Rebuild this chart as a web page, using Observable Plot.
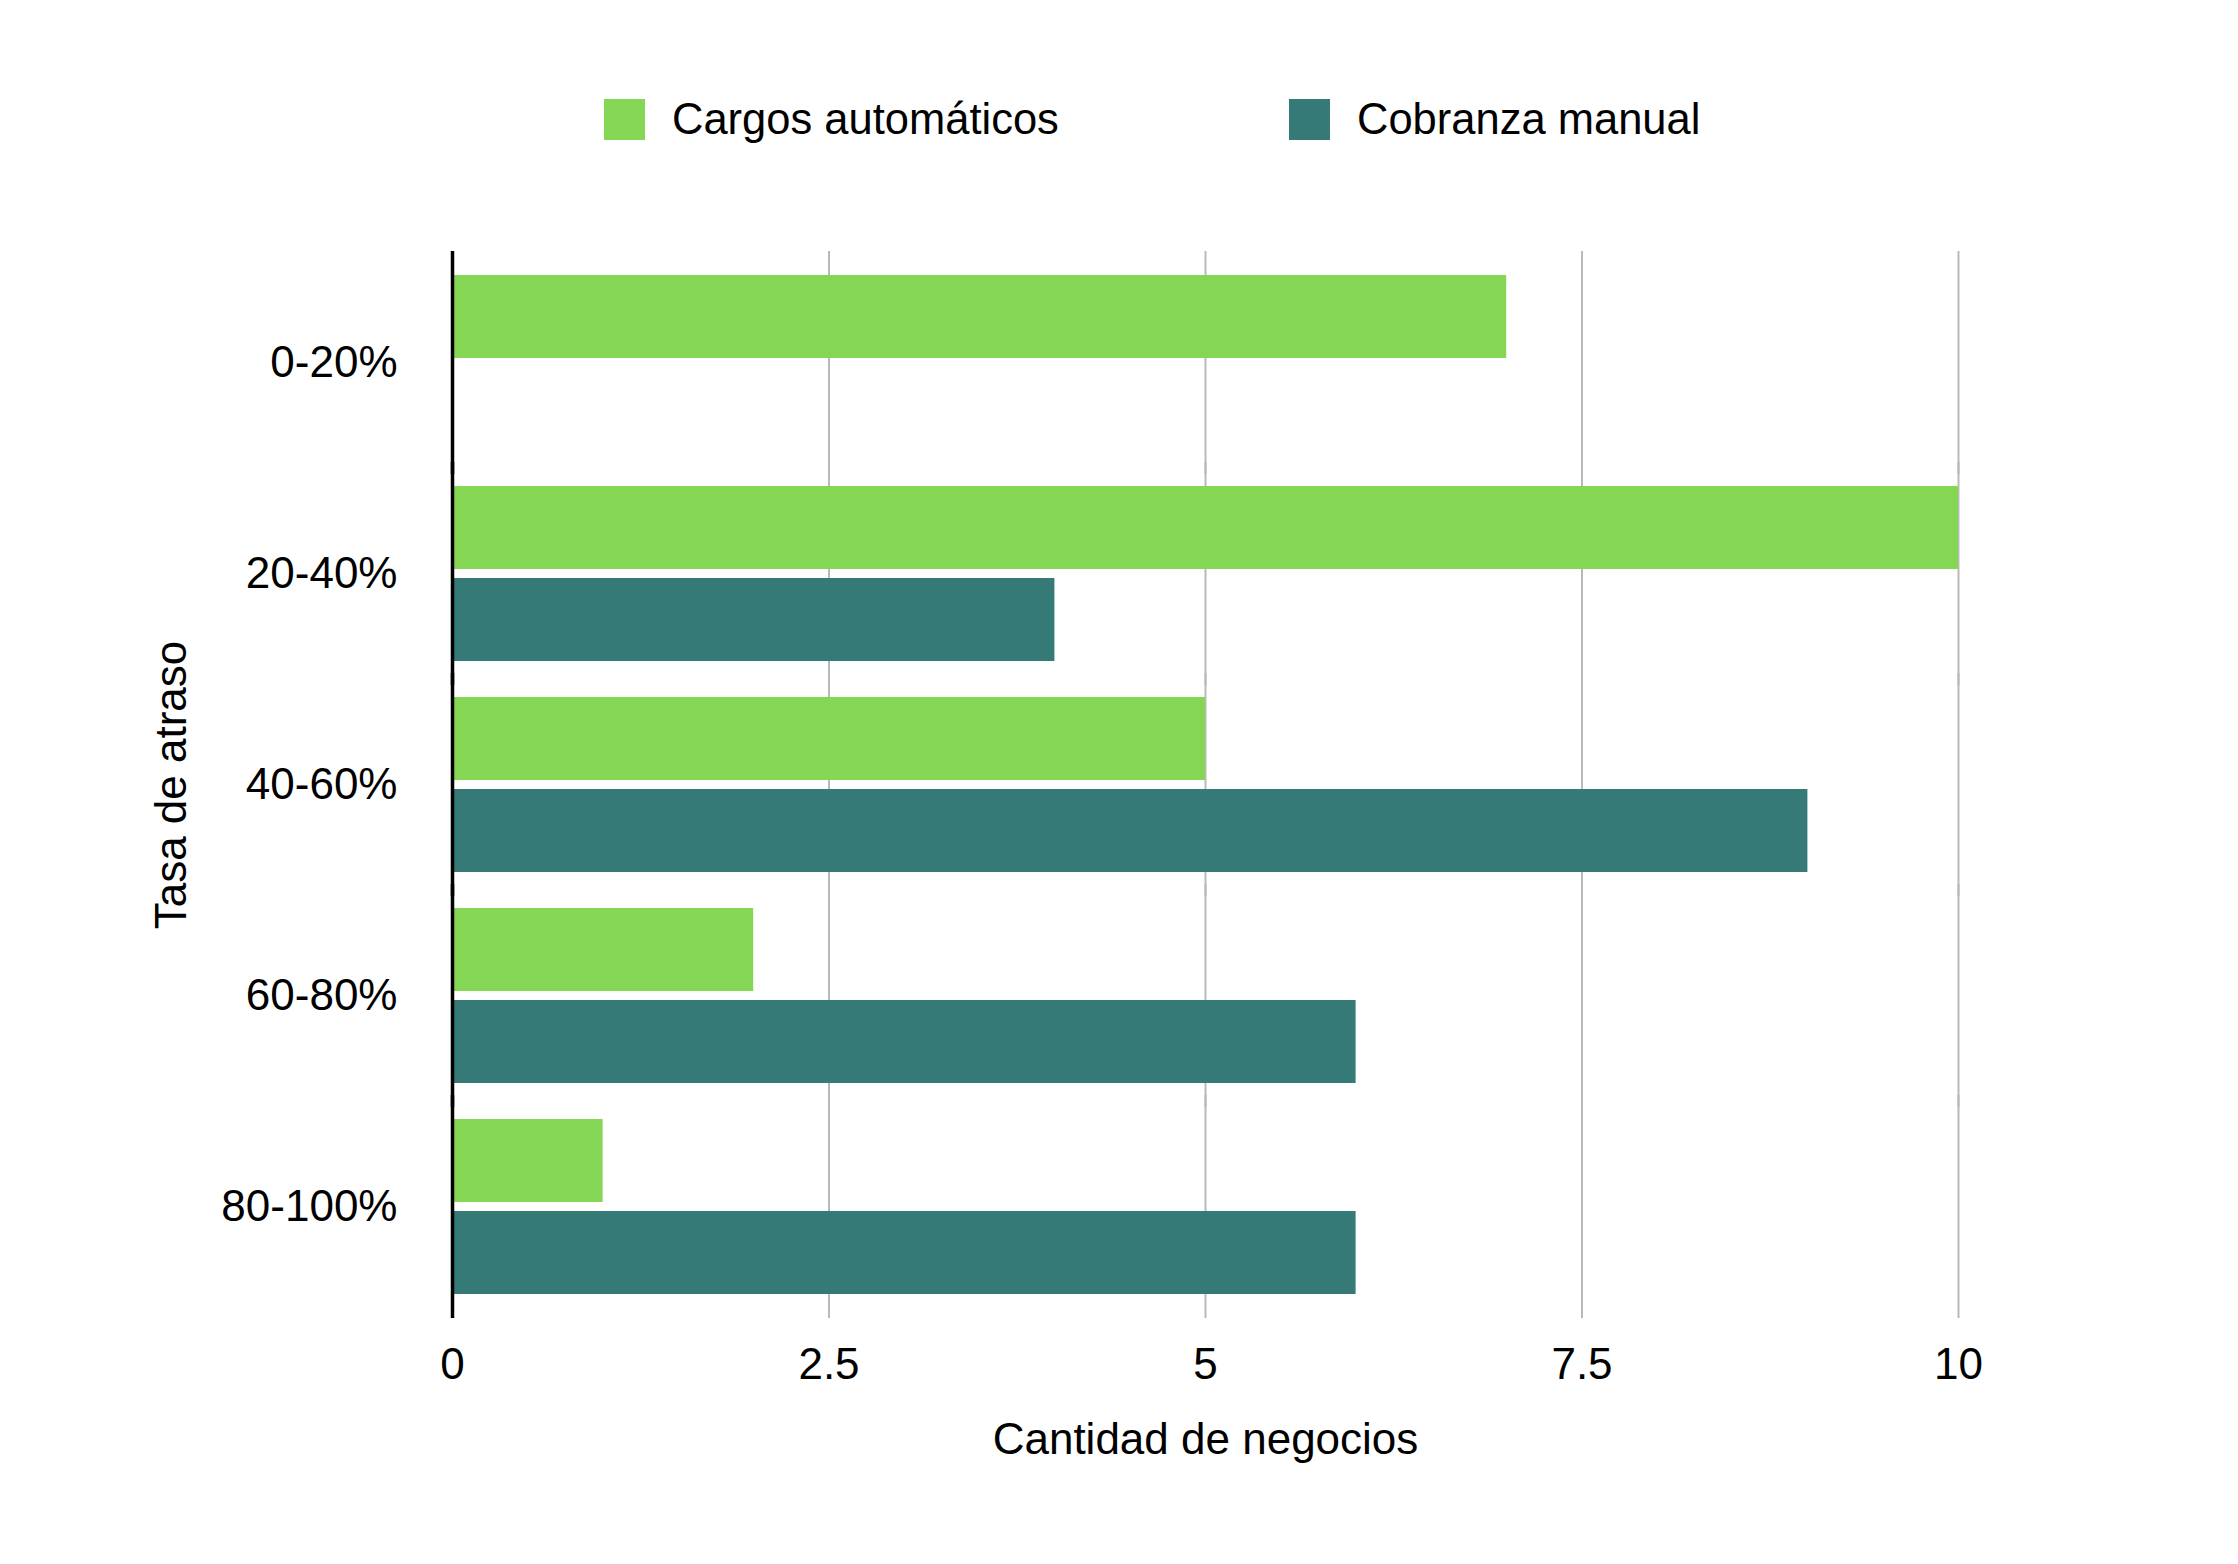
<!DOCTYPE html>
<html lang="es">
<head>
<meta charset="utf-8">
<title>Tasa de atraso por tipo de cobranza</title>
<script src="https://cdn.jsdelivr.net/npm/d3@7"></script>
<script src="https://cdn.jsdelivr.net/npm/@observablehq/plot@0.6"></script>
<style>
  html, body { margin: 0; padding: 0; background: #fff; }
  body { width: 2238px; height: 1564px; overflow: hidden; font-family: "Liberation Sans", Arial, Helvetica, sans-serif; }
  #legend { position: relative; width: 2238px; height: 200px; }
  .item { position: absolute; top: 99px; height: 41px; display: flex; align-items: center; font-size: 43.5px; color: #000; white-space: nowrap; }
  .swatch { width: 41px; height: 41px; margin-right: 27px; flex: none; }
  #chart svg { display: block; }
</style>
</head>
<body>
<div id="legend"></div>
<div id="chart"></div>
<script>
// Rangos de tasa de atraso (categorías del eje vertical)
const categories = ["0-20%", "20-40%", "40-60%", "60-80%", "80-100%"];
// Series comparadas
const series = ["Cargos automáticos", "Cobranza manual"];
// Cantidad de negocios por rango
const cargosAutomaticos = [7, 10, 5, 2, 1];
const cobranzaManual = [0, 4, 9, 6, 6];
// Marcas del eje horizontal
const xTicks = [0, 2.5, 5, 7.5, 10];
const colors = ["#84d654", "#357a76"];

const values = [cargosAutomaticos, cobranzaManual];
const data = categories.flatMap((category, i) =>
  series.map((s, j) => ({category, series: s, value: values[j][i]}))
);

// Leyenda
const legend = document.getElementById("legend");
const legendLeft = [604, 1289];
series.forEach((s, j) => {
  const item = document.createElement("div");
  item.className = "item";
  item.style.left = legendLeft[j] + "px";
  const sw = document.createElement("span");
  sw.className = "swatch";
  sw.style.background = colors[j];
  const label = document.createElement("span");
  label.textContent = s;
  item.append(sw, label);
  legend.append(item);
});

const font = "Liberation Sans, Arial, Helvetica, sans-serif";

// Las líneas de cuadrícula y el eje en 0 se extienden un poco fuera de cada
// faceta para cubrir el pequeño margen exterior de la escala fy.
const reach = {insetTop: -6, insetBottom: -6};

const chart = Plot.plot({
  width: 2238,
  height: 1364,
  marginTop: 51,
  marginBottom: 246,
  marginLeft: 452,
  marginRight: 280,
  style: {fontFamily: font, fontSize: "44px", color: "#000", background: "#fff"},
  x: {domain: [0, 10]},
  y: {domain: series, paddingInner: 0.097, paddingOuter: 0.183, axis: null},
  fy: {domain: categories, paddingInner: 0, paddingOuter: 0.024},
  color: {domain: series, range: colors},
  marks: [
    Plot.gridX(xTicks, {stroke: "#b9b9b9", strokeWidth: 2, strokeOpacity: 1, ...reach}),
    Plot.barX(data, {x: "value", y: "series", fy: "category", fill: "series"}),
    Plot.ruleX([0], {stroke: "#000", strokeWidth: 3.5, ...reach}),
    Plot.axisX(xTicks, {
      tickSize: 0,
      tickPadding: 35,
      fontSize: 44,
      tickFormat: d => String(d),
      label: "Cantidad de negocios",
      labelAnchor: "center",
      labelArrow: "none",
      labelOffset: 141
    }),
    Plot.axisFy({
      anchor: "left",
      tickSize: 0,
      tickPadding: 55,
      fontSize: 44,
      label: "Tasa de atraso",
      labelAnchor: "center",
      labelArrow: "none",
      labelOffset: 298
    })
  ]
});

document.getElementById("chart").append(chart);
</script>
</body>
</html>
